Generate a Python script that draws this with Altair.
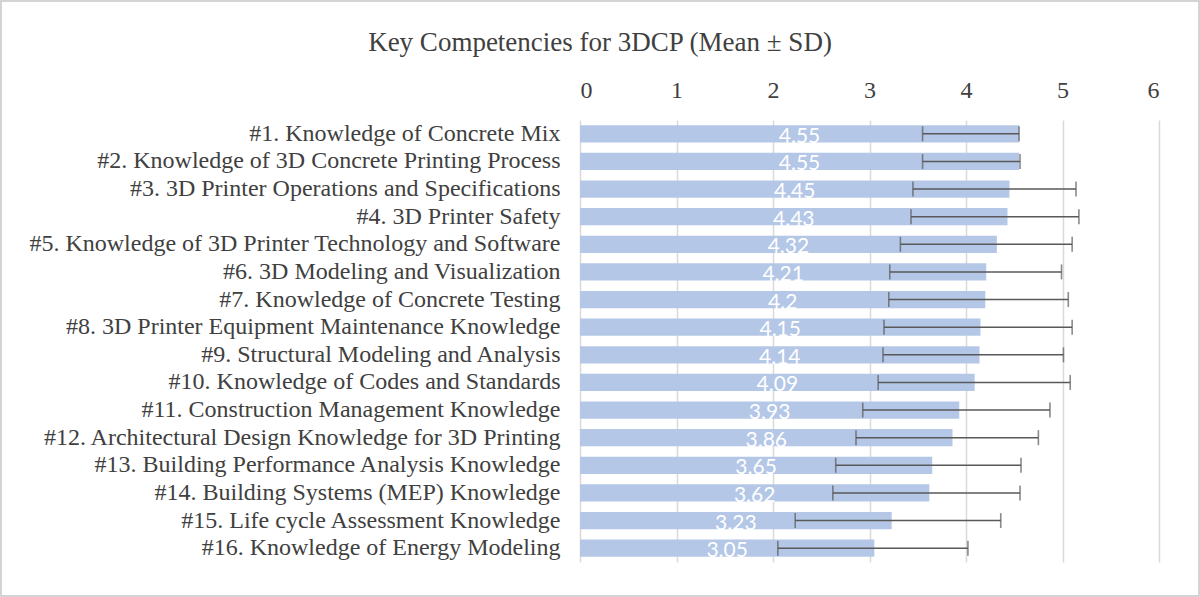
import altair as alt
import pandas as pd

labels = [
    "#1. Knowledge of Concrete Mix",
    "#2. Knowledge of 3D Concrete Printing Process",
    "#3. 3D Printer Operations and Specifications",
    "#4. 3D Printer Safety ",
    "#5. Knowledge of 3D Printer Technology and Software",
    "#6. 3D Modeling and Visualization ",
    "#7. Knowledge of Concrete Testing ",
    "#8. 3D Printer Equipment Maintenance Knowledge",
    "#9. Structural Modeling and Analysis",
    "#10. Knowledge of Codes and Standards",
    "#11. Construction Management Knowledge",
    "#12. Architectural Design Knowledge for 3D Printing",
    "#13. Building Performance Analysis Knowledge",
    "#14. Building Systems (MEP) Knowledge",
    "#15. Life cycle Assessment Knowledge",
    "#16. Knowledge of Energy Modeling ",
]
means = [4.55, 4.55, 4.45, 4.43, 4.32, 4.21, 4.2, 4.15, 4.14, 4.09, 3.93, 3.86, 3.65, 3.62, 3.23, 3.05]
lower = [3.55, 3.55, 3.45, 3.43, 3.32, 3.21, 3.20, 3.15, 3.14, 3.09, 2.93, 2.86, 2.65, 2.62, 2.23, 2.05]
upper = [4.55, 4.56, 5.14, 5.17, 5.10, 4.99, 5.06, 5.10, 5.01, 5.08, 4.87, 4.75, 4.57, 4.56, 4.36, 4.02]

df = pd.DataFrame({"label": labels, "mean": means, "lo": lower, "hi": upper})

serif = "Liberation Serif"
y_enc = alt.Y(
    "label:N",
    sort=None,
    title=None,
    scale=alt.Scale(paddingInner=0.38, paddingOuter=0.19),
    axis=alt.Axis(
        labelFont=serif, labelFontSize=24, labelColor="#404040",
        ticks=False, domain=False, labelPadding=20, labelLimit=700, grid=False,
    ),
)
x_scale = alt.Scale(domain=[0, 6], nice=False)

base = alt.Chart(df)

bars = base.mark_bar(color="#B4C7E7").encode(
    x=alt.X(
        "mean:Q", scale=x_scale, title=None,
        axis=alt.Axis(
            orient="top", values=[0, 1, 2, 3, 4, 5, 6], format="d",
            labelFont=serif, labelFontSize=24, labelColor="#404040",
            ticks=False, domain=False, labelPadding=18,
            grid=True, gridColor="#D9D9D9", gridWidth=1.5,
        ),
    ),
    y=y_enc,
)

err_color = "#595959"
err = base.mark_rule(color=err_color, strokeWidth=1.6).encode(
    x=alt.X("lo:Q", scale=x_scale), x2="hi:Q", y=alt.Y("label:N", sort=None)
)
cap_lo = base.mark_tick(color=err_color, thickness=1.6, size=15, orient="vertical").encode(
    x=alt.X("lo:Q", scale=x_scale), y=alt.Y("label:N", sort=None)
)
cap_hi = base.mark_tick(color=err_color, thickness=1.6, size=15, orient="vertical").encode(
    x=alt.X("hi:Q", scale=x_scale), y=alt.Y("label:N", sort=None)
)

text = base.transform_calculate(mid="datum.mean / 2").mark_text(
    color="white", font="Lato", fontSize=21, baseline="middle", align="center", dy=3
).encode(
    x=alt.X("mid:Q", scale=x_scale),
    y=alt.Y("label:N", sort=None),
    text=alt.Text("mean:Q"),
)

frame = alt.Chart(pd.DataFrame({"f": [0]})).mark_rect(
    fill=None, stroke="#D4D4D4", strokeWidth=2
).encode(
    x=alt.value(-579), x2=alt.value(619), y=alt.value(-119), y2=alt.value(476)
)

chart = alt.layer(bars, err, cap_lo, cap_hi, text, frame).properties(
    width=579,
    height=442,
    autosize=alt.AutoSizeParams(type="none"),
    padding={"left": 580, "top": 120, "right": 41, "bottom": 35},
    title=alt.TitleParams(
        "Key Competencies for 3DCP (Mean ± SD)",
        font=serif, fontSize=27, fontWeight="normal", color="#404040",
        anchor="middle", frame="bounds", offset=18, dx=0, dy=75,
    ),
).configure(background="white").configure_view(stroke=None)

chart.save("out.html", embed_options={"renderer": "svg", "actions": False})
